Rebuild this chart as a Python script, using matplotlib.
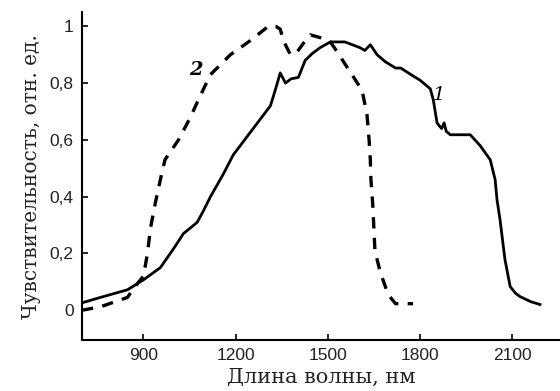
import matplotlib
matplotlib.use("Agg")
import matplotlib.pyplot as plt
from matplotlib.ticker import FuncFormatter

# curve 1 (solid)
wl1 = [700, 760, 848, 900, 955, 1000, 1030, 1053, 1075, 1095, 1118, 1160, 1192, 1250, 1313, 1330, 1345,
       1362, 1380, 1404, 1426, 1450, 1475, 1508, 1555, 1604, 1620, 1638, 1660, 1687, 1720, 1737,
       1770, 1800, 1833, 1843, 1855, 1862, 1870, 1878, 1885, 1898, 1963, 1995, 2028, 2044,
       2050, 2060, 2076, 2093, 2110, 2125, 2160, 2190]
s1 = [0.026, 0.045, 0.072, 0.107, 0.15, 0.22, 0.27, 0.29, 0.31, 0.35, 0.40, 0.48, 0.547, 0.63, 0.72, 0.78, 0.836,
      0.80, 0.815, 0.82, 0.88, 0.905, 0.925, 0.945, 0.945, 0.925, 0.915, 0.935, 0.9, 0.875, 0.853, 0.853,
      0.83, 0.81, 0.78, 0.74, 0.66, 0.65, 0.64, 0.66, 0.63, 0.618, 0.618, 0.58, 0.53, 0.46,
      0.39, 0.318, 0.178, 0.083, 0.06, 0.048, 0.03, 0.02]

# curve 2 (dashed)
wl2 = [700, 760, 848, 870, 900, 913, 923, 939, 955, 970, 1014, 1053, 1078, 1118, 1183,
       1248, 1306, 1330, 1345, 1355, 1378, 1400, 1420, 1443, 1475, 1508, 1524, 1566, 1611,
       1627, 1634, 1638, 1640, 1646, 1653, 1670, 1696, 1720, 1777]
s2 = [0.0, 0.012, 0.045, 0.08, 0.12, 0.2, 0.29, 0.38, 0.46, 0.53, 0.6, 0.68, 0.74, 0.83, 0.9,
      0.95, 1.0, 1.0, 0.99, 0.95, 0.9, 0.91, 0.94, 0.97, 0.96, 0.945, 0.92, 0.85, 0.775,
      0.69, 0.6, 0.53, 0.46, 0.37, 0.21, 0.135, 0.055, 0.023, 0.023]

xticks = [900, 1200, 1500, 1800, 2100]
yticks = [0, 0.2, 0.4, 0.6, 0.8, 1.0]

fig = plt.figure(figsize=(5.6, 3.91), dpi=100)
ax = fig.add_axes([0.1464, 0.1304, 0.8536, 0.8386])

ax.plot(wl1, s1, color="black", lw=2.0, solid_joinstyle="round")
ax.plot(wl2, s2, color="black", lw=2.4, dashes=(3.4, 2.8))

ax.set_xlim(700, 2255)
ax.set_ylim(-0.105, 1.05)
ax.set_xticks(xticks)
ax.set_yticks(yticks)
ax.yaxis.set_major_formatter(FuncFormatter(lambda v, p: ("%g" % round(v, 1)).replace(".", ",")))

for side in ("top", "right"):
    ax.spines[side].set_visible(False)
for side in ("left", "bottom"):
    ax.spines[side].set_linewidth(1.5)

ax.tick_params(direction="in", length=4, width=1.2, labelsize=12.5, pad=6)
for lab in ax.get_xticklabels() + ax.get_yticklabels():
    lab.set_family("Liberation Sans")
    lab.set_color("#222222")

ax.set_xlabel("Длина волны, нм", family="DejaVu Serif", fontsize=15, labelpad=3, color="#222222")
ax.set_ylabel("Чувствительность, отн. ед.", family="DejaVu Serif", fontsize=14.5, labelpad=6, color="#222222")

ax.text(1840, 0.74, "1", family="DejaVu Serif", style="italic", fontsize=14)
ax.text(1050, 0.83, "2", family="DejaVu Serif", style="italic", weight="bold", fontsize=14)

fig.savefig("out.png", dpi=100)
